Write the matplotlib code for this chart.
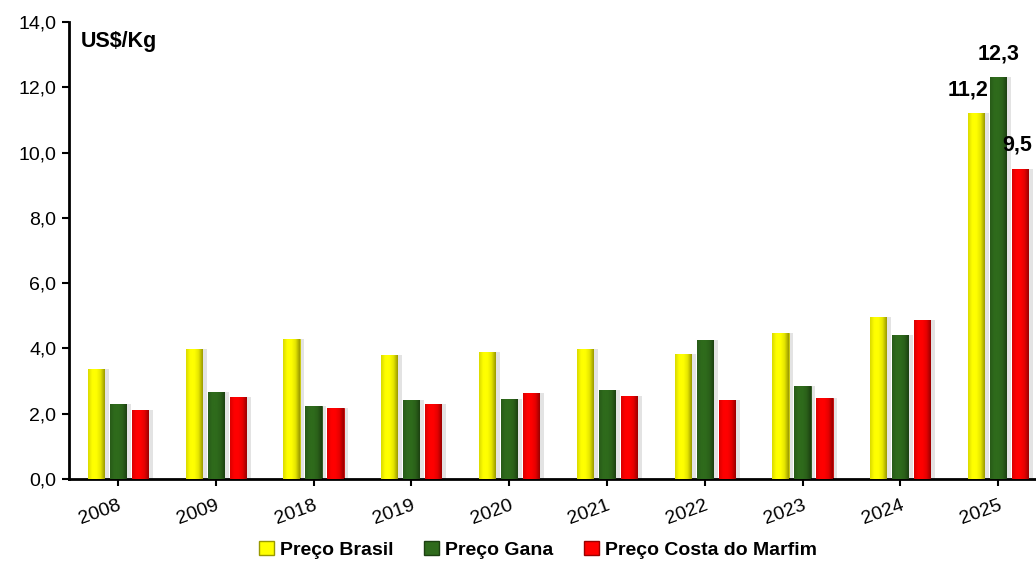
import matplotlib
matplotlib.use("Agg")
import matplotlib.pyplot as plt
import numpy as np
from matplotlib.colors import LinearSegmentedColormap, to_rgb
from matplotlib.patches import Patch

plt.rcParams['font.family'] = ['Liberation Sans', 'DejaVu Sans']

years = ["2008", "2009", "2018", "2019", "2020", "2021", "2022", "2023", "2024", "2025"]
brasil = [3.36, 3.98, 4.30, 3.79, 3.88, 3.97, 3.83, 4.46, 4.95, 11.2]
gana = [2.30, 2.66, 2.25, 2.43, 2.46, 2.74, 4.27, 2.84, 4.42, 12.3]
costa = [2.10, 2.52, 2.17, 2.30, 2.63, 2.54, 2.41, 2.49, 4.88, 9.5]
series_names = ["Preço Brasil", "Preço Gana", "Preço Costa do Marfim"]
colors = ["#ffff00", "#2f6b1c", "#ff0000"]
yticks = [0, 2, 4, 6, 8, 10, 12, 14]

fig = plt.figure(figsize=(10.36, 5.62), dpi=100)
ax = fig.add_axes([69/1036, 1-479/562, (1036-69)/1036, (479-22)/562])

x = np.arange(len(years))
w = 0.165
step = 0.225

def shade(c, f):
    r = np.array(to_rgb(c))
    return tuple(np.clip(r * f, 0, 1))

for i, (vals, c) in enumerate(zip([brasil, gana, costa], colors)):
    pos = x + (i - 1) * step
    ax.bar(pos + 0.05, vals, w, color="#c8c8c8", alpha=0.5, zorder=1, linewidth=0)
    bars = ax.bar(pos, vals, w, color=c, zorder=2, linewidth=0.6,
                  edgecolor=shade(c, 0.75), label=series_names[i])
    cmap = LinearSegmentedColormap.from_list(
        "g", [shade(c, 0.85), shade(c, 1.0), c, shade(c, 0.9), shade(c, 0.6)])
    grad = np.linspace(0, 1, 64).reshape(1, -1)
    for b in bars:
        bx, by = b.get_x(), b.get_y()
        bw, bh = b.get_width(), b.get_height()
        im = ax.imshow(grad, extent=[bx, bx + bw, by, by + bh], aspect="auto",
                       cmap=cmap, zorder=3, interpolation="bicubic")
        im.set_clip_path(b)

for xi, v, dx in zip([x[-1] - step, x[-1], x[-1] + step],
                     [brasil[-1], gana[-1], costa[-1]], [-0.08, 0.0, -0.03]):
    ax.text(xi + dx, v + 0.4, f"{v:.1f}".replace(".", ","), ha="center", va="bottom",
            fontsize=15.5, fontweight="bold")

ax.set_xlim(-0.5, (1036 - 69) / 97.8 - 0.5)
ax.set_ylim(0, 14)
ax.set_yticks(yticks)
ax.set_yticklabels([f"{t:.1f}".replace(".", ",") for t in yticks], fontsize=14)
ax.set_xticks(x)
ax.set_xticklabels(years, fontsize=14, rotation=20, ha="right", rotation_mode="anchor")
ax.tick_params(axis="x", length=5, width=1.5, pad=8)
ax.tick_params(axis="y", length=5, width=1.5, pad=4)
for s in ["top", "right"]:
    ax.spines[s].set_visible(False)
for s in ["left", "bottom"]:
    ax.spines[s].set_linewidth(2)

ax.text(82/1036 - 69/1036, 0.98, "US$/Kg", transform=ax.transAxes, fontsize=15.5,
        fontweight="bold", va="top", ha="left")

handles = [Patch(facecolor=c, edgecolor=shade(c, 0.6)) for c in colors]
fig.legend(handles, series_names, loc="center", bbox_to_anchor=(538/1036, 1 - 550/562),
           ncol=3, frameon=False, prop={"weight": "bold", "size": 14},
           handlelength=0.75, handleheight=0.75, handletextpad=0.3, columnspacing=1.6)

fig.savefig("out.png", dpi=100)
